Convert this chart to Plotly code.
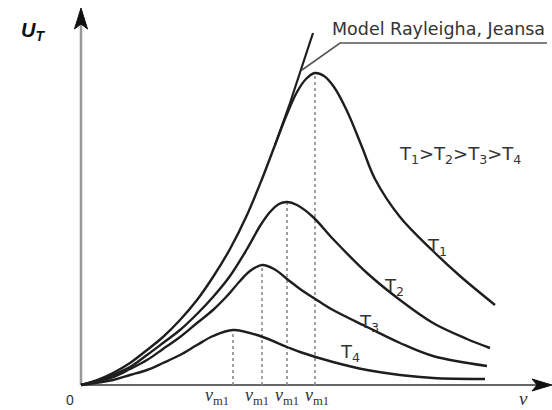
import plotly.graph_objects as go

# --- data (arbitrary units) ---
nu_T1 = [0, 1.6, 3.2, 4.9, 6.6, 8.2, 9.9, 11.6, 13.2, 14.9, 16.6, 18.1, 19.4, 20.6, 21.6, 22.5, 23.4, 24.3, 25.3, 26.6, 28.1, 29.4, 31.9, 35.2, 37.9, 41.4]
u_T1 = [0, 0.5, 1.2, 2.2, 3.5, 4.8, 6.5, 8.5, 10.8, 13.6, 17.0, 20.6, 24.0, 27.1, 29.3, 30.6, 31.2, 30.9, 29.8, 27.4, 23.8, 20.6, 16.8, 13.4, 10.9, 8.0]

nu_T2 = [0, 1.6, 3.2, 4.9, 6.6, 8.2, 9.9, 11.6, 13.2, 14.9, 16.6, 17.9, 18.9, 19.8, 20.6, 21.6, 23.2, 25.2, 28.6, 31.9, 35.2, 38.6, 40.9]
u_T2 = [0, 0.4, 1.0, 1.8, 3.0, 4.2, 5.5, 7.1, 8.8, 10.9, 13.6, 15.9, 17.3, 18.1, 18.3, 18.0, 16.8, 14.6, 11.2, 8.5, 6.2, 4.6, 3.7]

nu_T3 = [0, 3.2, 4.9, 6.6, 8.2, 9.9, 11.6, 13.2, 14.6, 15.9, 16.9, 18.1, 19.3, 20.6, 21.9, 23.9, 25.2, 28.6, 31.9, 35.2, 40.6]
u_T3 = [0, 0.8, 1.6, 2.5, 3.6, 4.8, 6.2, 7.5, 8.9, 10.4, 11.4, 12.0, 11.6, 10.6, 9.6, 8.3, 7.5, 5.8, 4.2, 2.9, 1.9]

nu_T4 = [0, 3.2, 4.9, 6.6, 8.2, 9.9, 11.6, 13.2, 15.2, 17.9, 20.6, 21.9, 25.2, 28.6, 31.9, 35.2, 40.4]
u_T4 = [0, 0.5, 1.0, 1.5, 2.2, 3.0, 4.0, 4.9, 5.5, 4.9, 3.8, 3.3, 2.3, 1.5, 1.0, 0.7, 0.6]

nu_RJ = [19.4, 20.9, 23.2]
u_RJ = [24.0, 28.2, 35.2]

curve_names = ["T<sub>1</sub>", "T<sub>2</sub>", "T<sub>3</sub>", "T<sub>4</sub>"]
peak_label = "<i>ν</i><sub>m1</sub>"
rj_label = "Model Rayleigha, Jeansa"
order_label = "T<sub>1</sub>>T<sub>2</sub>>T<sub>3</sub>>T<sub>4</sub>"
y_title = "<b><i>U<sub>T</sub></i></b>"
x_title = "<i>ν</i>"
origin_label = "0"

curves = [(nu_T1, u_T1), (nu_T2, u_T2), (nu_T3, u_T3), (nu_T4, u_T4)]

X_MAX = 47.1
Y_MAX = 37.7

fig = go.Figure()

# dotted peak lines (from the data maxima)
for nu, u in curves:
    i = u.index(max(u))
    fig.add_trace(go.Scatter(x=[nu[i], nu[i]], y=[0, u[i]], mode="lines",
                             line=dict(color="#8a8a8a", width=1.6, dash="dot"),
                             hoverinfo="skip", showlegend=False))

for nu, u in curves:
    fig.add_trace(go.Scatter(x=nu, y=u, mode="lines",
                             line=dict(color="#1e1e1e", width=2.4, shape="spline", smoothing=1.0),
                             hoverinfo="skip", showlegend=False))

fig.add_trace(go.Scatter(x=nu_RJ, y=u_RJ, mode="lines",
                         line=dict(color="#1e1e1e", width=2.2),
                         hoverinfo="skip", showlegend=False))

shapes = [
    dict(type="line", xref="x", yref="y", x0=0, y0=0, x1=0, y1=Y_MAX - 1.5,
         line=dict(color="#999999", width=2.5), layer="below"),
    dict(type="line", xref="x", yref="y", x0=0, y0=0, x1=X_MAX - 1.5, y1=0,
         line=dict(color="#666666", width=2.2), layer="below"),
    dict(type="path", xref="x", yref="y", xsizemode="pixel", ysizemode="pixel",
         xanchor=0, yanchor=Y_MAX, path="M0,0 L-6.5,-21 L0,-16 L6.5,-21 Z",
         fillcolor="#111111", line=dict(color="#111111", width=1)),
    dict(type="path", xref="x", yref="y", xsizemode="pixel", ysizemode="pixel",
         xanchor=X_MAX, yanchor=0, path="M0,0 L-20,6 L-15,0 L-20,-6 Z",
         fillcolor="#111111", line=dict(color="#111111", width=1)),
    dict(type="path", xref="x", yref="y",
         path="M22.1,31.5 L25.9,34.2 L46.6,34.2",
         line=dict(color="#555555", width=1.6)),
]

font_main = "DejaVu Sans"
ann = []
ann.append(dict(x=46.6, y=35.6, text=rj_label, showarrow=False, xanchor="right",
                font=dict(family=font_main, size=17.5, color="#333333")))
ann.append(dict(x=37.9, y=23.0, text=order_label, showarrow=False,
                font=dict(family=font_main, size=18, color="#333333")))
t_pos = [(35.6, 13.8), (31.3, 9.8), (28.8, 6.2), (26.9, 3.2)]
for (x, y), name in zip(t_pos, curve_names):
    ann.append(dict(x=x, y=y, text=name, showarrow=False,
                    font=dict(family=font_main, size=18, color="#333333")))
for x in [13.6, 17.6, 20.6, 23.6]:
    ann.append(dict(x=x, y=-1.1, text=peak_label, showarrow=False,
                    font=dict(family="Liberation Serif", size=18, color="#333333")))
ann.append(dict(x=-4.8, y=35.4, text=y_title, showarrow=False,
                font=dict(family="Liberation Sans", size=20, color="#111111")))
ann.append(dict(x=-1.1, y=-1.5, text=origin_label, showarrow=False,
                font=dict(family="Liberation Sans", size=14, color="#333333")))
ann.append(dict(x=44.2, y=-1.3, text=x_title, showarrow=False,
                font=dict(family="Liberation Serif", size=19, color="#333333")))

fig.update_layout(
    width=552, height=410,
    margin=dict(l=0, r=0, t=0, b=0),
    paper_bgcolor="white", plot_bgcolor="white",
    xaxis=dict(range=[-8.1, X_MAX], visible=False, fixedrange=True),
    yaxis=dict(range=[-2.5, 38.5], visible=False, fixedrange=True),
    shapes=shapes, annotations=ann, showlegend=False,
)

fig.write_html("out.html", config={"displayModeBar": False},
               post_script="document.body.style.margin='0';document.body.style.overflow='hidden';")
